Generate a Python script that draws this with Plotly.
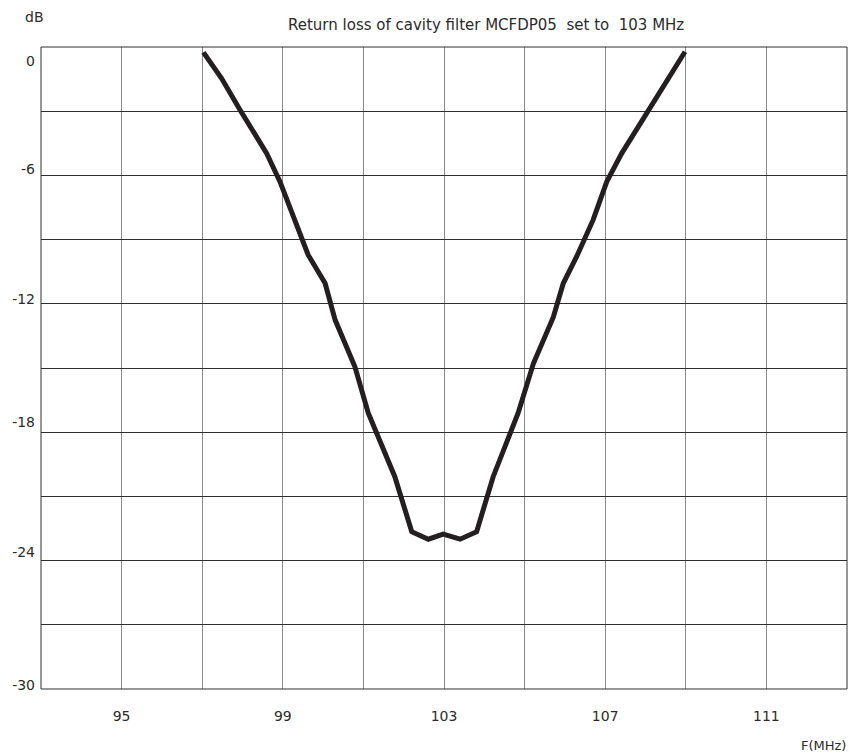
import plotly.graph_objects as go

# Data
freq_mhz = [97.03, 97.48, 97.94, 98.60, 98.93, 99.30, 99.63, 100.05, 100.30, 100.79,
            101.12, 101.78, 102.20, 102.61, 102.98, 103.40, 103.81, 104.22, 104.84,
            105.22, 105.71, 105.96, 106.29, 106.70, 107.04, 107.41, 108.07, 108.53, 108.98]
return_loss_db = [-0.25, -1.46, -2.94, -4.97, -6.29, -8.08, -9.72, -11.04, -12.76, -14.94,
                  -17.10, -20.08, -22.65, -23.00, -22.76, -23.00, -22.65, -20.08, -17.10,
                  -14.78, -12.64, -11.04, -9.80, -8.08, -6.29, -4.97, -2.94, -1.50, -0.22]

x_tick_vals = [95, 99, 103, 107, 111]
x_tick_text = ["95", "99", "103", "107", "111"]
y_tick_vals = [-0.67, -5.7, -11.78, -17.51, -23.58, -29.81]
y_tick_text = ["0", "-6", "-12", "-18", "-24", "-30"]

title_text = "Return loss of cavity filter MCFDP05  set to  103 MHz"
FONT = "DejaVu Sans"
TXT = "#2b2b2b"

fig = go.Figure()
fig.add_trace(go.Scatter(x=freq_mhz, y=return_loss_db, mode="lines",
                         line=dict(color="#231f20", width=5), showlegend=False,
                         hoverinfo="skip"))
# invisible trace for overlay axes
fig.add_trace(go.Scatter(x=[freq_mhz[0]], y=[return_loss_db[0]], xaxis="x2", yaxis="y2",
                         mode="markers", marker=dict(opacity=0), showlegend=False,
                         hoverinfo="skip"))

fig.update_layout(
    width=849, height=753,
    margin=dict(l=41, r=2, t=47, b=64, autoexpand=False),
    paper_bgcolor="white", plot_bgcolor="white",
    font=dict(family=FONT, size=12, color=TXT),
    xaxis=dict(range=[93, 113], dtick=2, tick0=93, showgrid=True, gridcolor="#8a8a8a",
               gridwidth=1, showticklabels=False, zeroline=False, showline=False,
               ticks="", automargin=False),
    yaxis=dict(range=[-30, 0], dtick=3, tick0=0, showgrid=True, gridcolor="#2e2e2e",
               gridwidth=1, showticklabels=False, zeroline=False, showline=False,
               ticks="", automargin=False),
    xaxis2=dict(range=[93, 113], overlaying="x", anchor="y", side="bottom",
                tickvals=x_tick_vals, ticktext=x_tick_text, showgrid=False,
                zeroline=False, showline=False, ticks="", ticklabelstandoff=17,
                automargin=False, tickfont=dict(family=FONT, size=14, color=TXT)),
    yaxis2=dict(range=[-30, 0], overlaying="y", anchor="x", side="left",
                tickvals=y_tick_vals, ticktext=y_tick_text, showgrid=False,
                zeroline=False, showline=False, ticks="", ticklabelstandoff=5,
                automargin=False, tickfont=dict(family=FONT, size=14, color=TXT)),
    shapes=[dict(type="rect", xref="paper", yref="paper", x0=0, y0=0, x1=1, y1=1,
                 line=dict(color="#2e2e2e", width=1), layer="above")],
    annotations=[
        dict(text=title_text, xref="paper", yref="paper", x=(485.5 - 41) / 806,
             y=1, yshift=22, showarrow=False, xanchor="center", yanchor="middle",
             font=dict(family=FONT, size=15, color=TXT)),
        dict(text="dB", xref="paper", yref="paper", x=-7 / 806, y=1,
             yshift=30, showarrow=False, xanchor="center", yanchor="middle",
             font=dict(family=FONT, size=14, color=TXT)),
        dict(text="F(MHz)", xref="paper", yref="paper", x=1, y=0, xshift=1,
             yshift=-56, showarrow=False, xanchor="right", yanchor="middle",
             font=dict(family=FONT, size=13, color=TXT)),
    ],
)

fig.write_html("out.html", config={"displayModeBar": False},
               post_script="document.body.style.margin='0';"
                           "document.body.style.overflow='hidden';")
